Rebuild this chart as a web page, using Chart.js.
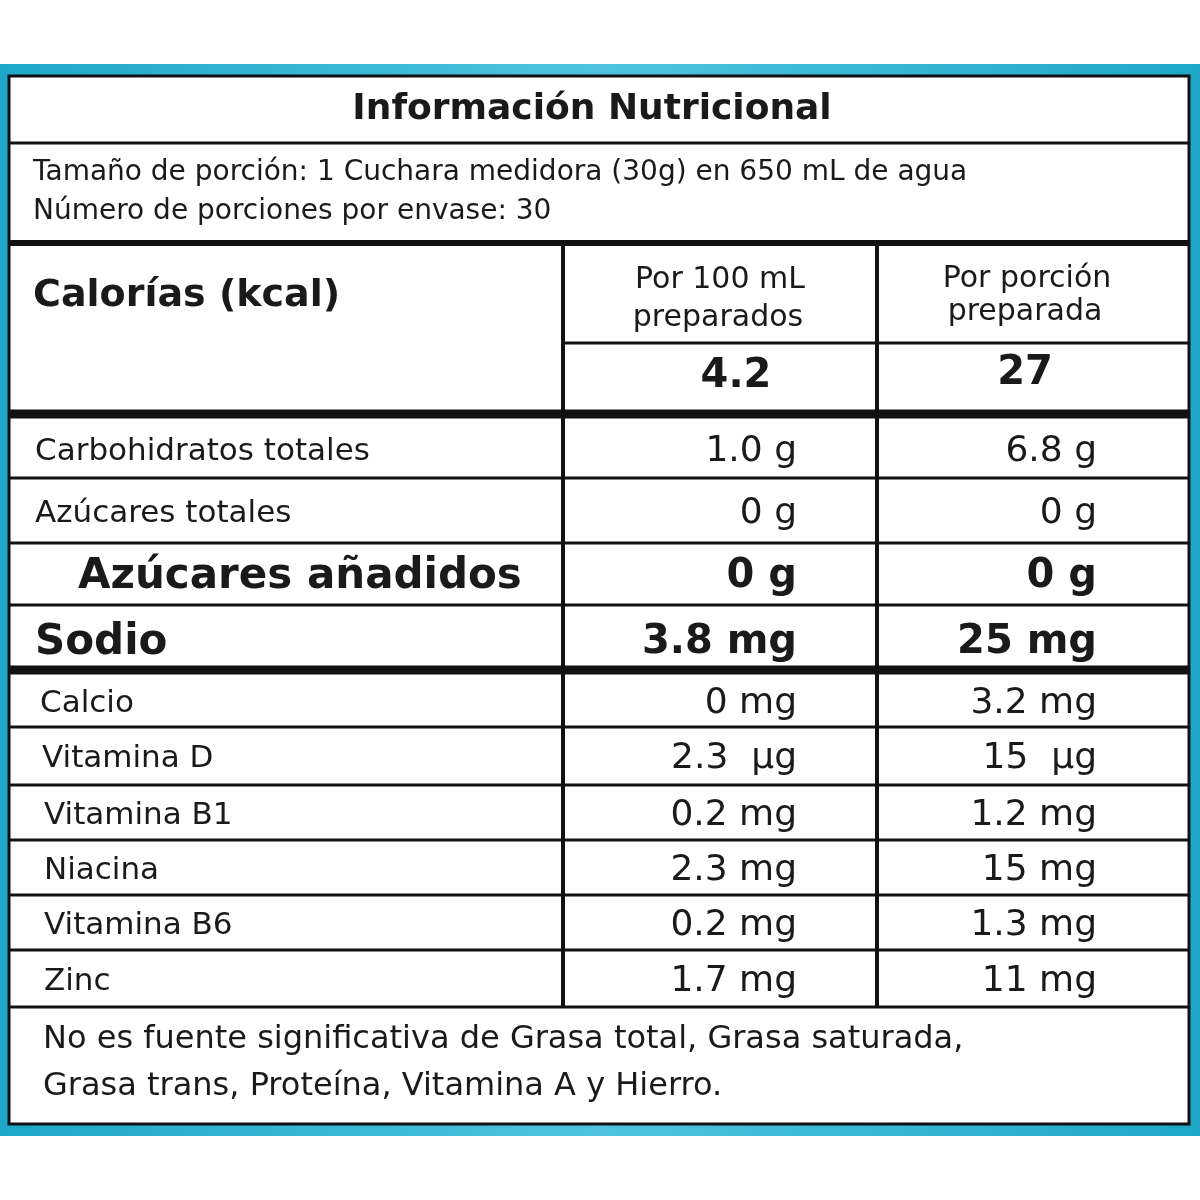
<!DOCTYPE html>
<html><head><meta charset="utf-8">
<script src="https://cdn.jsdelivr.net/npm/chart.js@4"></script>
<style>body{margin:0;background:#fff}canvas{display:block}</style>
</head><body>
<canvas id="c" width="1200" height="1200"></canvas>
<script>
const title = "Información Nutricional"
const serving = ["Tamaño de porción: 1 Cuchara medidora (30g) en 650 mL de agua", "Número de porciones por envase: 30"]
const colHeads = [["Por 100 mL", "preparados"], ["Por porción", "preparada"]]
const calories = ["4.2", "27"]
const nutrients = ["Carbohidratos totales", "Azúcares totales", "Azúcares añadidos", "Sodio", "Calcio", "Vitamina D", "Vitamina B1", "Niacina", "Vitamina B6", "Zinc"]
const per100 = ["1.0 g", "0 g", "0 g", "3.8 mg", "0 mg", "2.3  µg", "0.2 mg", "2.3 mg", "0.2 mg", "1.7 mg"]
const perPortion = ["6.8 g", "0 g", "0 g", "25 mg", "3.2 mg", "15  µg", "1.2 mg", "15 mg", "1.3 mg", "11 mg"]
const boldRows = [false, false, true, true, false, false, false, false, false, false]
const footer = ["No es fuente significativa de Grasa total, Grasa saturada,", "Grasa trans, Proteína, Vitamina A y Hierro."]

// row boundaries (table units, top to bottom)
const rowTops = [420, 478, 543, 605, 675, 727, 785, 840, 895, 950, 1007]
const F = '"DejaVu Sans", Verdana, sans-serif'

const tablePlugin = {
  id: 'table',
  afterDraw(chart) {
    const ctx = chart.ctx, sx = chart.scales.x, sy = chart.scales.y
    const X = v => sx.getPixelForValue(v), Y = v => sy.getPixelForValue(v)
    const line = (x1, y1, x2, y2, w) => {
      ctx.beginPath(); ctx.lineWidth = w; ctx.strokeStyle = '#111'
      ctx.moveTo(X(x1), Y(y1)); ctx.lineTo(X(x2), Y(y2)); ctx.stroke()
    }
    const text = (s, x, y, size, bold, align) => {
      ctx.font = (bold ? 'bold ' : '') + size + 'px ' + F
      ctx.fillStyle = '#1a1a1a'; ctx.textAlign = align || 'left'; ctx.textBaseline = 'middle'
      ctx.fillText(s, X(x), Y(y))
    }
    ctx.save()
    const g = ctx.createLinearGradient(0, 0, 1200, 0)
    g.addColorStop(0, '#1ea7c9'); g.addColorStop(0.5, '#4fc3e0'); g.addColorStop(1, '#1ea7c9')
    ctx.fillStyle = g; ctx.fillRect(X(0), Y(64), X(1200) - X(0), Y(1136) - Y(64))
    ctx.fillStyle = '#fff'; ctx.fillRect(X(8), Y(75), X(1190) - X(8), Y(1125) - Y(75))
    ctx.lineWidth = 3; ctx.strokeStyle = '#111'
    ctx.strokeRect(X(9), Y(76), X(1189) - X(9), Y(1124) - Y(76))

    text(title, 592, 110, 36, true, 'center')
    line(9, 143, 1189, 143, 3)
    text(serving[0], 33, 173, 28); text(serving[1], 33, 212, 28)
    line(9, 243, 1189, 243, 6)

    text("Calorías (kcal)", 33, 296, 38, true)
    text(colHeads[0][0], 720, 280, 30, false, 'center'); text(colHeads[0][1], 718, 318, 30, false, 'center')
    text(colHeads[1][0], 1027, 279, 30, false, 'center'); text(colHeads[1][1], 1025, 312, 30, false, 'center')
    line(563, 343, 1189, 343, 3)
    text(calories[0], 736, 377, 40, true, 'center'); text(calories[1], 1025, 374, 40, true, 'center')
    line(9, 414, 1189, 414, 9)

    nutrients.forEach((n, i) => {
      const mid = (rowTops[i] + rowTops[i + 1]) / 2 + 3
      const b = boldRows[i]
      const size = b ? 42 : 31
      const lx = i === 2 ? 78 : (i < 4 ? 35 : 40 + Math.min(i - 4, 2) * 2)
      text(n, lx, mid, size, b)
      text(per100[i], 797, mid, b ? 40 : 36, b, 'right')
      text(perPortion[i], 1097, mid, b ? 40 : 36, b, 'right')
      if (i + 1 < nutrients.length && i !== 3) line(9, rowTops[i + 1], 1189, rowTops[i + 1], 3)
    })
    line(9, 670, 1189, 670, 9)
    line(9, 1007, 1189, 1007, 3)
    line(563, 243, 563, 1007, 4)
    line(877, 243, 877, 1007, 4)

    text(footer[0], 43, 1040, 32); text(footer[1], 43, 1087, 32)
    ctx.restore()
  }
}

new Chart(document.getElementById('c').getContext('2d'), {
  type: 'scatter',
  data: { datasets: [{ data: [], pointRadius: 0 }] },
  options: {
    responsive: false, animation: false,
    layout: { padding: 0 },
    plugins: { legend: { display: false }, tooltip: { enabled: false } },
    scales: {
      x: { type: 'linear', min: 0, max: 1200, display: false },
      y: { type: 'linear', min: 0, max: 1200, reverse: true, display: false }
    }
  },
  plugins: [tablePlugin]
})
</script>
</body></html>
